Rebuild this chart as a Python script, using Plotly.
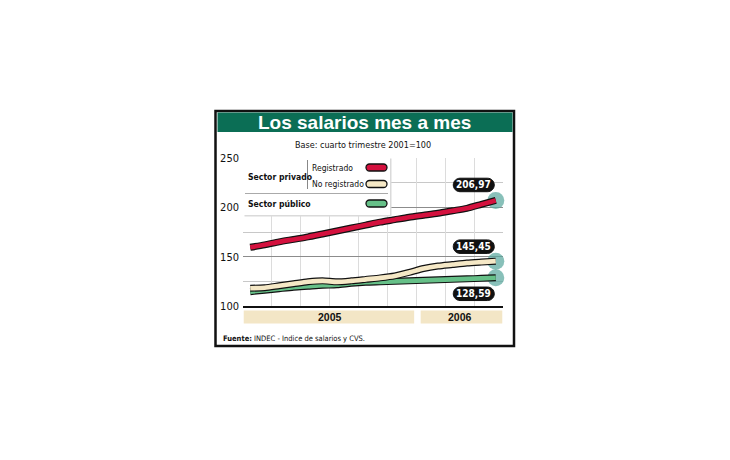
import plotly.graph_objects as go

# ---------------- data ----------------
meses = ['Ene 05', 'Feb 05', 'Mar 05', 'Abr 05', 'May 05', 'Jun 05', 'Jul 05', 'Ago 05',
         'Sep 05', 'Oct 05', 'Nov 05', 'Dic 05', 'Ene 06', 'Feb 06', 'Mar 06', 'Abr 06',
         'May 06', 'Jun 06']
registrado = [159.5, 162, 165, 167.5, 170, 173, 176, 179, 182, 185, 187.5, 190,
              192, 194, 196.5, 199, 203, 206.97]
no_registrado = [118, 118.5, 120.5, 122.5, 124.5, 125.5, 124.5, 125.5, 127, 128.5, 130.5,
                 134, 138, 140.5, 142, 143.5, 144.5, 145.45]
publico = [114.5, 116, 117.5, 119, 120, 121, 121.5, 123, 124, 124.5, 125, 125.5,
           126, 126.5, 127, 127.5, 128, 128.59]
anios = ['2005', '2006']
meses_por_anio = [12, 6]
y_ticks = [100, 150, 200, 250]

# ---------------- styling ----------------
W, H = 730, 460
PL, PR, PT, PB = 243, 503, 158, 306
NARROW = "Liberation Sans Narrow, DejaVu Sans Condensed, Arial Narrow, sans-serif"
SANS = "Liberation Sans, Arial, sans-serif"
C_RED, C_CREAM, C_GREEN = '#d4113e', '#f5e8c6', '#66c088'
C_TITLE = '#0b6e55'


def fx(px):
    return (px - PL) / (PR - PL)


def fy(py):
    return (PB - py) / (PB - PT)


def pill_path(cx, cy, w, h):
    """rounded pill path in pixel units (y up), relative to anchor"""
    r = h / 2.0
    k = 0.552 * r
    x0, x1 = cx - w / 2.0, cx + w / 2.0
    y0, y1 = cy - h / 2.0, cy + h / 2.0
    return (f"M{x0 + r},{y1} L{x1 - r},{y1} "
            f"C{x1 - r + k},{y1} {x1},{cy + k} {x1},{cy} "
            f"C{x1},{cy - k} {x1 - r + k},{y0} {x1 - r},{y0} "
            f"L{x0 + r},{y0} "
            f"C{x0 + r - k},{y0} {x0},{cy - k} {x0},{cy} "
            f"C{x0},{cy + k} {x0 + r - k},{y1} {x0 + r},{y1} Z")


fig = go.Figure()

series = [(publico, C_GREEN), (no_registrado, C_CREAM), (registrado, C_RED)]

# end markers (halo)
for vals, col in series:
    fig.add_trace(go.Scatter(x=[meses[-1]], y=[vals[-1]], mode='markers',
                             marker=dict(size=17, color='rgba(90,168,158,0.72)'),
                             cliponaxis=False, hoverinfo='skip', showlegend=False))

for vals, col in series:
    fig.add_trace(go.Scatter(x=meses, y=vals, mode='lines', cliponaxis=False,
                             line=dict(color='#111', width=7, shape='spline', smoothing=0.7),
                             hoverinfo='skip', showlegend=False))
    fig.add_trace(go.Scatter(x=meses, y=vals, mode='lines', cliponaxis=False,
                             line=dict(color=col, width=4.6, shape='spline', smoothing=0.7),
                             showlegend=False))

shapes = []
annotations = []

# outer frame and title bar
shapes.append(dict(type='rect', xref='paper', yref='paper', x0=fx(215.5), x1=fx(514),
                   y0=fy(346), y1=fy(111), line=dict(color='#111', width=2.5),
                   fillcolor='rgba(0,0,0,0)', layer='below'))
shapes.append(dict(type='rect', xref='paper', yref='paper', x0=fx(217.5), x1=fx(512.5),
                   y0=fy(132), y1=fy(112.5), line=dict(width=0), fillcolor=C_TITLE))
annotations.append(dict(xref='paper', yref='paper', x=fx(364.5), y=fy(122),
                        text='<b>Los salarios mes a mes</b>', showarrow=False,
                        font=dict(family=SANS, size=19, color='white'),
                        xanchor='center', yanchor='middle'))
annotations.append(dict(xref='paper', yref='paper', x=fx(363), y=fy(144.5),
                        text='Base: cuarto trimestre 2001=100', showarrow=False,
                        font=dict(family="DejaVu Sans Condensed, DejaVu Sans, sans-serif",
                                  size=9, color='#111'),
                        xanchor='center', yanchor='middle'))

# year bands
start = 0
for anio, n in zip(anios, meses_por_anio):
    x0 = start - 0.5 + (0.05 if start == 0 else 0.3)
    x1 = start + n - 0.5 - (0.15 if start == 0 else 0.05)
    shapes.append(dict(type='rect', xref='x', yref='paper', x0=x0, x1=x1,
                       y0=fy(323.5), y1=fy(310.5), line=dict(width=0),
                       fillcolor='#f3e6c6'))
    annotations.append(dict(xref='x', yref='paper', x=start + (n - 1) / 2.0, y=fy(317),
                            text=f'<b>{anio}</b>', showarrow=False,
                            font=dict(family=SANS, size=10.5, color='#111'),
                            xanchor='center', yanchor='middle'))
    start += n

# legend box
shapes.append(dict(type='rect', xref='paper', yref='paper', x0=fx(244.5), x1=fx(391.5),
                   y0=fy(216.5), y1=fy(158.5), line=dict(width=0),
                   fillcolor='#dadada'))
shapes.append(dict(type='rect', xref='paper', yref='paper', x0=fx(243), x1=fx(390),
                   y0=fy(215), y1=fy(157), line=dict(width=0),
                   fillcolor='#ffffff'))
shapes.append(dict(type='line', xref='paper', yref='paper', x0=fx(307.5), x1=fx(307.5),
                   y0=fy(189), y1=fy(160), line=dict(color='#888', width=1)))
shapes.append(dict(type='line', xref='paper', yref='paper', x0=fx(245), x1=fx(388),
                   y0=fy(193.5), y1=fy(193.5), line=dict(color='#aaa', width=1)))
LEG_BOLD = dict(family=NARROW, size=8.6, color='#111')
LEG_REG = dict(family=NARROW, size=8.5, color='#111')
annotations.append(dict(xref='paper', yref='paper', x=fx(246), y=fy(176.5),
                        text='<b>Sector privado</b>', showarrow=False, font=LEG_BOLD,
                        xanchor='left', yanchor='middle'))
annotations.append(dict(xref='paper', yref='paper', x=fx(309.5), y=fy(167.5),
                        text='Registrado', showarrow=False, font=LEG_REG,
                        xanchor='left', yanchor='middle'))
annotations.append(dict(xref='paper', yref='paper', x=fx(309.5), y=fy(184),
                        text='No registrado', showarrow=False, font=LEG_REG,
                        xanchor='left', yanchor='middle'))
annotations.append(dict(xref='paper', yref='paper', x=fx(246), y=fy(203.5),
                        text='<b>Sector público</b>', showarrow=False, font=LEG_BOLD,
                        xanchor='left', yanchor='middle'))
for col, py in [(C_RED, 167.5), (C_CREAM, 184), (C_GREEN, 203.5)]:
    shapes.append(dict(type='path', xref='paper', yref='paper',
                       xsizemode='pixel', ysizemode='pixel',
                       xanchor=fx(376.5), yanchor=fy(py),
                       path=pill_path(0, 0, 21, 7), fillcolor=col,
                       line=dict(color='#111', width=1.3)))

# value labels
for (vals, col), dy in zip(series, [-16, 14.5, 15.5]):
    v = vals[-1]
    shapes.append(dict(type='path', xref='x', yref='y', xsizemode='pixel', ysizemode='pixel',
                       xanchor=len(meses) - 1, yanchor=v,
                       path=pill_path(-22, dy, 41, 13.5), fillcolor='#111',
                       line=dict(color='#111', width=1)))
    annotations.append(dict(x=meses[-1], y=v, xref='x', yref='y',
                            text='<b>' + f'{v:.2f}'.replace('.', ',') + '</b>',
                            showarrow=False, xshift=-22, yshift=dy,
                            font=dict(family=NARROW, size=10, color='white'),
                            xanchor='center', yanchor='middle'))

annotations.append(dict(xref='paper', yref='paper', x=fx(221), y=fy(338),
                        text='<b>Fuente:</b> INDEC - Indice de salarios y CVS.',
                        showarrow=False, font=dict(family=NARROW, size=7.5, color='#111'),
                        xanchor='left', yanchor='middle'))

fig.update_layout(
    width=W, height=H, autosize=False,
    margin=dict(l=PL, r=W - PR, t=PT, b=H - PB, pad=0),
    paper_bgcolor='white', plot_bgcolor='white',
    showlegend=False,
    shapes=shapes, annotations=annotations,
    xaxis=dict(type='category', categoryorder='array', categoryarray=meses,
               range=[-0.5, len(meses) - 0.5], tickson='boundaries',
               showticklabels=False, ticks='', showgrid=True, gridcolor='#dcdcdc',
               gridwidth=1, showline=True, linecolor='#111', linewidth=1.5,
               zeroline=False, fixedrange=True),
    yaxis=dict(range=[100, 250], tickvals=y_ticks, showgrid=True, gridcolor='#8c8c8c',
               gridwidth=1, ticks='', zeroline=False,
               tickfont=dict(family=NARROW, size=11, color='#111'),
               ticklabelstandoff=3,
               minor=dict(dtick=25, tick0=100, showgrid=True, gridcolor='#c8c8c8', gridwidth=1),
               fixedrange=True),
)

fig.write_html("out.html")
